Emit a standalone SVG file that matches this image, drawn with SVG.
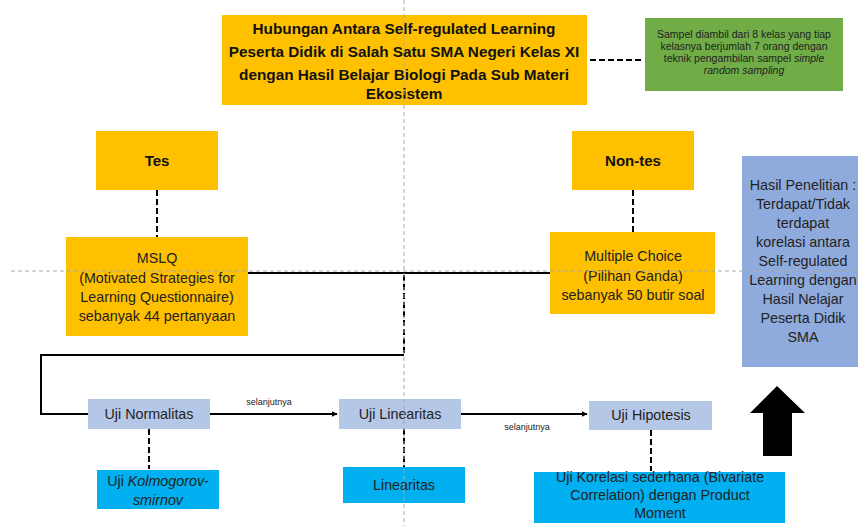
<svg xmlns="http://www.w3.org/2000/svg" width="858" height="526" viewBox="0 0 858 526">
<defs>
<style>
.t{font-family:"Liberation Sans",Arial,sans-serif;fill:#222;text-anchor:middle}
.b{font-weight:bold;fill:#111}
.m{font-size:14.3px}
.or{fill:#FFC000}
.gr{fill:#70AD47}
.lb{fill:#B4C7E7}
.cy{fill:#00B0F0}
.bl{fill:#8FAADC}
.dash{stroke:#000;stroke-width:2;stroke-dasharray:6,3;fill:none}
.solid{stroke:#000;stroke-width:2;fill:none}
.guide{stroke:#aaa;stroke-width:1;stroke-dasharray:4,3;fill:none}
</style>
<marker id="ah" viewBox="0 0 10 10" refX="9" refY="5" markerWidth="6" markerHeight="6" orient="auto" markerUnits="userSpaceOnUse"><path d="M0,0 L10,5 L0,10 z" fill="#000"/></marker>
</defs>
<rect width="858" height="526" fill="#fff"/>
<g id="connectors">
<path class="dash" d="M590,60 H643"/>
<path class="dash" d="M157,190 V237"/>
<path class="dash" d="M633,190 V232"/>
<path class="solid" d="M248,273 H550"/>
<path class="dash" d="M404,275 V355"/>
<path class="solid" d="M404,355 H41 V414 H88"/>
<path class="solid" d="M210,414 H337" marker-end="url(#ah)"/>
<path class="solid" d="M461,414 H587" marker-end="url(#ah)"/>
<path class="dash" d="M149,429 V469"/>
<path class="dash" d="M404,429 V467"/>
<path class="dash" d="M651,430 V471"/>
<text class="t" x="269" y="405" font-size="9">selanjutnya</text>
<text class="t" x="527" y="430" font-size="9">selanjutnya</text>
</g>
<g id="title">
<rect class="or" x="222" y="15" width="365" height="90"/>
<text class="t b" font-size="15.3" x="404" y="34">Hubungan Antara Self-regulated Learning</text>
<text class="t b" font-size="15.3" x="404" y="57">Peserta Didik di Salah Satu SMA Negeri Kelas XI</text>
<text class="t b" font-size="15.3" x="404" y="80">dengan Hasil Belajar Biologi Pada Sub Materi</text>
<text class="t b" font-size="15.3" x="404" y="99">Ekosistem</text>
</g>
<g id="sampel">
<rect class="gr" x="645" y="18" width="198" height="73"/>
<text class="t" font-size="10.5" x="744" y="38">Sampel diambil dari 8 kelas yang tiap</text>
<text class="t" font-size="10.5" x="744" y="50">kelasnya berjumlah 7 orang dengan</text>
<text class="t" font-size="10.5" x="744" y="62">teknik pengambilan sampel <tspan font-style="italic">simple</tspan></text>
<text class="t" font-size="10.5" x="744" y="74" font-style="italic">random sampling</text>
</g>
<g id="tes">
<rect class="or" x="96" y="131" width="122" height="59"/>
<text class="t b" font-size="15" x="157" y="166">Tes</text>
</g>
<g id="nontes">
<rect class="or" x="572" y="131" width="122" height="59"/>
<text class="t b" font-size="15" x="633" y="166">Non-tes</text>
</g>
<g id="mslq">
<rect class="or" x="66" y="237" width="182" height="99"/>
<text class="t m" x="157" y="263">MSLQ</text>
<text class="t m" x="157" y="283">(Motivated Strategies for</text>
<text class="t m" x="157" y="302">Learning Questionnaire)</text>
<text class="t m" x="157" y="321">sebanyak 44 pertanyaan</text>
</g>
<g id="mc">
<rect class="or" x="550" y="232" width="165" height="82"/>
<text class="t m" x="633" y="261">Multiple Choice</text>
<text class="t m" x="633" y="281">(Pilihan Ganda)</text>
<text class="t m" x="633" y="300">sebanyak 50 butir soal</text>
</g>
<g id="hasil">
<rect class="bl" x="742" y="156" width="116" height="211"/>
<text class="t m" x="803" y="190">Hasil Penelitian :</text>
<text class="t m" x="803" y="209">Terdapat/Tidak</text>
<text class="t m" x="803" y="228">terdapat</text>
<text class="t m" x="803" y="247">korelasi antara</text>
<text class="t m" x="803" y="266">Self-regulated</text>
<text class="t m" x="803" y="285">Learning dengan</text>
<text class="t m" x="803" y="304">Hasil Nelajar</text>
<text class="t m" x="803" y="323">Peserta Didik</text>
<text class="t m" x="803" y="342">SMA</text>
</g>
<g id="arrow-up">
<path d="M777,386 L805,413 L792,413 L792,456 L763,456 L763,413 L750,413 Z" fill="#000"/>
</g>
<g id="normalitas">
<rect class="lb" x="88" y="399" width="122" height="30"/>
<text class="t m" x="149" y="419">Uji Normalitas</text>
</g>
<g id="linearitas-uji">
<rect class="lb" x="339" y="399" width="122" height="30"/>
<text class="t m" x="400" y="419">Uji Linearitas</text>
</g>
<g id="hipotesis">
<rect class="lb" x="589" y="401" width="123" height="29"/>
<text class="t m" x="651" y="420">Uji Hipotesis</text>
</g>
<g id="kolmogorov">
<rect class="cy" x="97" y="470" width="122" height="39"/>
<text class="t m" x="158" y="486">Uji <tspan font-style="italic">Kolmogorov-</tspan></text>
<text class="t m" x="158" y="505" font-style="italic">smirnov</text>
</g>
<g id="linearitas">
<rect class="cy" x="343" y="467" width="122" height="36"/>
<text class="t m" x="404" y="490">Linearitas</text>
</g>
<g id="korelasi">
<rect class="cy" x="534" y="472" width="251" height="51"/>
<text class="t m" x="660" y="482">Uji Korelasi sederhana (Bivariate</text>
<text class="t m" x="660" y="500">Correlation) dengan Product</text>
<text class="t m" x="660" y="518">Moment</text>
</g>
<g id="guides">
<path class="guide" d="M404,0 V526"/>
<path class="guide" d="M11,271 H858"/>
</g>
</svg>
